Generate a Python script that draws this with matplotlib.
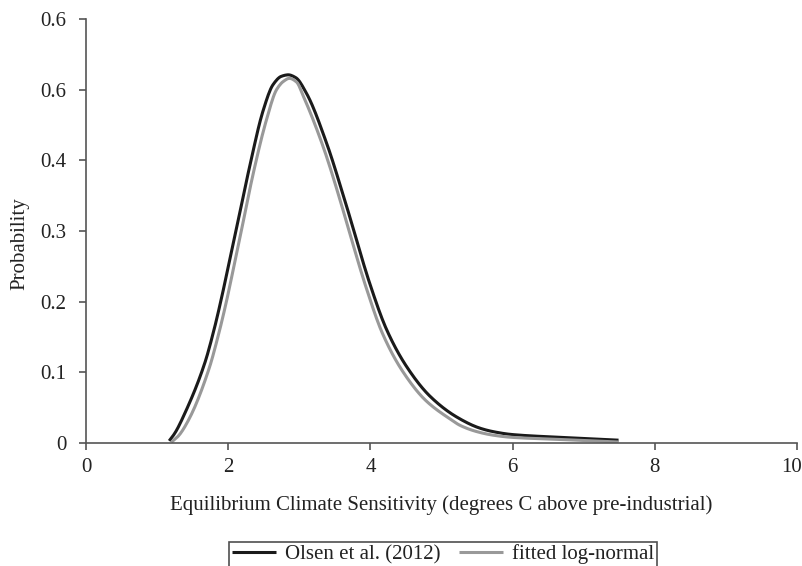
import numpy as np
import matplotlib
matplotlib.use('Agg')
import matplotlib.pyplot as plt
import matplotlib.transforms as mtransforms

plt.rcParams['font.family'] = ['Liberation Serif', 'DejaVu Serif']

# Olsen et al. (2012) distribution
olsen_x = [1.17, 1.25, 1.39, 1.67, 1.80, 1.91, 2.01, 2.12, 2.31, 2.49, 2.63,
           2.75, 2.845, 2.95, 3.10, 3.385, 3.62, 3.71, 3.99, 4.23, 4.51, 4.84,
           5.21, 5.54, 5.73, 5.99, 6.67, 7.49]
olsen_y = [0.003, 0.014, 0.042, 0.113, 0.160, 0.207, 0.254, 0.305, 0.395, 0.470, 0.507,
           0.519, 0.521, 0.517, 0.495, 0.424, 0.350, 0.320, 0.226, 0.160, 0.108, 0.066,
           0.037, 0.021, 0.016, 0.012, 0.008, 0.004]

# fitted log-normal
logn_x = [1.20, 1.30, 1.45, 1.73, 1.86, 1.97, 2.07, 2.18, 2.36, 2.54, 2.68,
          2.78, 2.86, 2.96, 3.06, 3.34, 3.57, 3.66, 3.94, 4.17, 4.45, 4.78,
          5.15, 5.26, 5.50, 5.73, 5.99, 6.67, 7.49]
logn_y = [0.001, 0.010, 0.034, 0.105, 0.152, 0.198, 0.245, 0.298, 0.385, 0.458, 0.500,
          0.512, 0.516, 0.511, 0.490, 0.418, 0.345, 0.314, 0.220, 0.155, 0.102, 0.060,
          0.032, 0.025, 0.016, 0.011, 0.008, 0.005, 0.0014]

y_ticks = [0, 0.1, 0.2, 0.3, 0.4, 0.5, 0.6]
y_labels = ['0', '0.1', '0.2', '0.3', '0.4', '0.6', '0.6']
x_ticks = [0, 2, 4, 6, 8, 10]


def smooth(x, y, n=400):
    # monotone cubic (pchip-like) through the read points
    x = np.asarray(x, float)
    y = np.asarray(y, float)
    h = np.diff(x)
    d = np.diff(y) / h
    m = np.zeros_like(y)
    for k in range(1, len(x) - 1):
        if d[k - 1] * d[k] > 0:
            w1 = 2 * h[k] + h[k - 1]
            w2 = h[k] + 2 * h[k - 1]
            m[k] = (w1 + w2) / (w1 / d[k - 1] + w2 / d[k])
    m[0] = d[0]
    m[-1] = d[-1]
    xs = np.linspace(x[0], x[-1], n)
    idx = np.clip(np.searchsorted(x, xs) - 1, 0, len(x) - 2)
    t = (xs - x[idx]) / h[idx]
    h00 = 2 * t**3 - 3 * t**2 + 1
    h10 = t**3 - 2 * t**2 + t
    h01 = -2 * t**3 + 3 * t**2
    h11 = t**3 - t**2
    ys = h00 * y[idx] + h10 * h[idx] * m[idx] + h01 * y[idx + 1] + h11 * h[idx] * m[idx + 1]
    return xs, ys


fig = plt.figure(figsize=(8.03, 5.66), dpi=100)
ax = fig.add_axes([86 / 803, 1 - 443 / 566, (797 - 86) / 803, (443 - 19) / 566])

xs, ys = smooth(olsen_x, olsen_y)
ax.plot(xs, ys, color='#1a1a1a', lw=2.2, label='Olsen et al. (2012)', solid_capstyle='butt')
xs, ys = smooth(logn_x, logn_y)
ax.plot(xs, ys, color='#999999', lw=2.2, label='fitted log-normal', solid_capstyle='butt')

ax.set_xlim(0, 10)
ax.set_ylim(0, 0.6)
ax.set_xticks(x_ticks)
ax.set_yticks(y_ticks)
ax.set_yticklabels(y_labels)

for s in ['top', 'right']:
    ax.spines[s].set_visible(False)
for s in ['left', 'bottom']:
    ax.spines[s].set_color('#555555')
    ax.spines[s].set_linewidth(1.2)
ax.tick_params(axis='both', direction='out', length=5, width=1.2, color='#555555',
               labelsize=15, labelcolor='#222222')
ax.tick_params(axis='x', pad=6)
ax.tick_params(axis='y', pad=9)

# keep the "10" inside the figure
lab10 = ax.get_xticklabels()[-1]
lab10.set_transform(lab10.get_transform() +
                    mtransforms.ScaledTranslation(-5 / 100, 0, fig.dpi_scale_trans))

ax.set_xlabel('Equilibrium Climate Sensitivity (degrees C above pre-industrial)',
              fontsize=15, color='#222222', labelpad=13)
ax.set_ylabel('Probability', fontsize=15, color='#222222')
ax.yaxis.set_label_coords(-0.080, 0.47)

leg = fig.legend(loc='upper center', bbox_to_anchor=(0.552, 1 - 542 / 566), ncol=2, fontsize=15,
                 frameon=True, fancybox=False, edgecolor='#222222', handlelength=2.1,
                 handletextpad=0.45, columnspacing=0.9, borderpad=0.12, borderaxespad=0)
leg.get_frame().set_linewidth(1.2)
for t in leg.get_texts():
    t.set_color('#222222')

fig.savefig('out.png', dpi=100)
